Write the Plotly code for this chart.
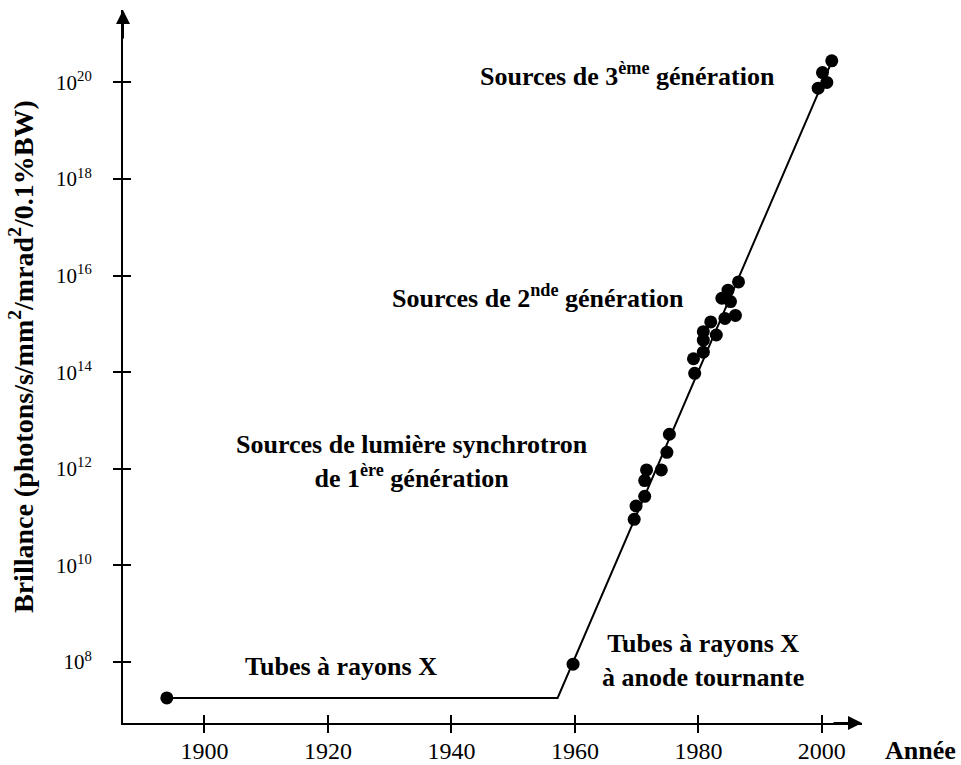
import plotly.graph_objects as go

# ---- data ----
point_years = [1893.9, 1959.7, 1969.6, 1969.9, 1971.3, 1971.3, 1971.6, 1974.0, 1974.9, 1975.3,
               1979.4, 1979.2, 1980.8, 1980.8, 1980.8, 1982.9, 1982.0, 1984.3, 1986.0,
               1983.8, 1985.2, 1984.8, 1986.5,
               1999.4, 2000.1, 2000.8, 2001.6]
point_brilliance = [1.8e7, 9.0e7, 9.0e10, 1.7e11, 2.7e11, 5.7e11, 9.5e11, 9.5e11, 2.2e12, 5.2e12,
                    9.5e13, 1.9e14, 2.6e14, 4.6e14, 6.9e14, 5.9e14, 1.1e15, 1.3e15, 1.5e15,
                    3.4e15, 2.9e15, 5.0e15, 7.4e15,
                    7.6e19, 1.6e20, 1.0e20, 2.8e20]

trend_years = [1893.9, 1957.2, 2001.7]
trend_brilliance = [1.8e7, 1.8e7, 2.9e20]

x_tickvals = [1900, 1920, 1940, 1960, 1980, 2000]
x_ticktext = ["1900", "1920", "1940", "1960", "1980", "2000"]
y_tickvals = [1e8, 1e10, 1e12, 1e14, 1e16, 1e18, 1e20]
y_ticktext = ["10<sup>8</sup>", "10<sup>10</sup>", "10<sup>12</sup>", "10<sup>14</sup>",
              "10<sup>16</sup>", "10<sup>18</sup>", "10<sup>20</sup>"]

x_range = [1886.8, 2006.5]
y_range_log = [6.737, 21.5]

# ---- layout geometry ----
W, H = 961, 765
L, R, T, B = 123, 99, 10, 42
PW, PH = W - L - R, H - T - B

def px(xp):
    return (xp - L) / PW

def py(yp):
    return (H - B - yp) / PH

FONT = "Liberation Serif"

fig = go.Figure()
fig.add_trace(go.Scatter(x=trend_years, y=trend_brilliance, mode="lines",
                         line=dict(color="black", width=2), hoverinfo="skip", showlegend=False))
fig.add_trace(go.Scatter(x=point_years, y=point_brilliance, mode="markers",
                         marker=dict(color="black", size=13), showlegend=False))

axis_common = dict(showgrid=False, zeroline=False, linecolor="black", linewidth=2,
                   tickcolor="black", tickwidth=2, automargin=False)

fig.update_layout(
    width=W, height=H,
    margin=dict(l=L, r=R, t=T, b=B, autoexpand=False),
    paper_bgcolor="white", plot_bgcolor="white",
    font=dict(family=FONT, color="black"),
    showlegend=False,
    xaxis=dict(range=x_range, tickvals=x_tickvals, ticktext=x_ticktext, showline=True,
               ticks="outside", ticklen=8, ticklabelstandoff=-3,
               tickfont=dict(size=24, family=FONT, color="black"), **axis_common),
    yaxis=dict(type="log", range=y_range_log, tickvals=y_tickvals, ticktext=y_ticktext,
               showline=True, ticks="outside", ticklen=8, ticklabelstandoff=17,
               tickfont=dict(size=21, family=FONT, color="black"), **axis_common),
    xaxis2=dict(range=x_range, tickvals=x_tickvals, overlaying="x", anchor="y", side="bottom",
                showticklabels=False, showline=False, ticks="inside", ticklen=8,
                showgrid=False, zeroline=False, tickcolor="black", tickwidth=2),
    yaxis2=dict(type="log", range=y_range_log, tickvals=y_tickvals, overlaying="y", anchor="x",
                side="left", showticklabels=False, showline=False, ticks="inside", ticklen=8,
                showgrid=False, zeroline=False, tickcolor="black", tickwidth=2),
)

# invisible trace so the overlay axes are instantiated
fig.add_trace(go.Scatter(x=[], y=[], xaxis="x2", yaxis="y2", showlegend=False))

def label(text, xc, yc, size=26, angle=0):
    fig.add_annotation(text=text, x=px(xc), y=py(yc), xref="paper", yref="paper",
                       xanchor="center", yanchor="middle", showarrow=False,
                       textangle=angle, font=dict(size=size, family=FONT, color="black"))

label("<b>Sources de 3<sup>ème</sup> génération</b>", 627, 74)
label("<b>Sources de 2<sup>nde</sup> génération</b>", 538, 296)
label("<b>Sources de lumière synchrotron<br>de 1<sup>ère</sup> génération</b>", 412, 461)
label("<b>Tubes à rayons X</b>", 341, 666)
label("<b>Tubes à rayons X<br>à anode tournante</b>", 703, 660)
label("<b>Année</b>", 920, 750)
label("<b>Brillance (photons/s/mm<sup>2</sup>/mrad<sup>2</sup>/0.1%BW)</b>", 22, 357, size=28, angle=-90)

# axis arrows
fig.add_annotation(x=1, y=0, xref="paper", yref="paper", ax=-30, ay=0, text="",
                   showarrow=True, arrowhead=2, arrowsize=1.4, arrowwidth=2, arrowcolor="black")
fig.add_annotation(x=0, y=1, xref="paper", yref="paper", ax=0, ay=30, text="",
                   showarrow=True, arrowhead=2, arrowsize=1.4, arrowwidth=2, arrowcolor="black")

fig.write_html(
    "out.html",
    config={"displayModeBar": False},
    post_script="document.body.style.margin='0';document.body.style.padding='0';"
                "document.body.style.overflow='hidden';",
)
